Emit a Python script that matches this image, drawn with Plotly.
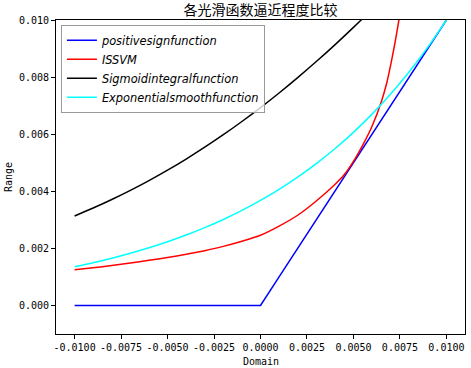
import plotly.graph_objects as go

# Data
x_grid = [-0.010, -0.009, -0.008, -0.007, -0.006, -0.005, -0.004, -0.003, -0.002, -0.001,
          0.000, 0.001, 0.002, 0.003, 0.004, 0.005, 0.006, 0.007, 0.008, 0.009, 0.010]

positive_y = [0, 0, 0, 0, 0, 0, 0, 0, 0, 0,
              0.0, 0.001, 0.002, 0.003, 0.004, 0.005, 0.006, 0.007, 0.008, 0.009, 0.010]

sigmoid_y = [0.003133, 0.003412, 0.003711, 0.004032, 0.004375, 0.004741, 0.005130, 0.005544,
             0.005981, 0.006444, 0.006931, 0.007444, 0.007981, 0.008544, 0.009130, 0.009741,
             0.010375, 0.011032, 0.011711, 0.012412, 0.013133]

expo_y = [0.001353, 0.001496, 0.001653, 0.001827, 0.002019, 0.002231, 0.002466, 0.002725,
          0.003012, 0.003329, 0.003679, 0.004066, 0.004493, 0.004966, 0.005488, 0.006065,
          0.006703, 0.007408, 0.008187, 0.009048, 0.010000]

issvm_x = [-0.010, -0.009, -0.008, -0.007, -0.006, -0.005, -0.004, -0.003, -0.002, -0.001,
           0.000, 0.001, 0.002, 0.003, 0.004, 0.0045, 0.005, 0.0055, 0.006, 0.0065,
           0.0068, 0.007, 0.0072, 0.0074, 0.0076, 0.008]
issvm_y = [0.00125, 0.00132, 0.00140, 0.00149, 0.00158, 0.00168, 0.00179, 0.00192, 0.00207,
           0.00225, 0.00246, 0.00278, 0.00316, 0.00366, 0.00424, 0.00458, 0.00505, 0.00562,
           0.00628, 0.00714, 0.00782, 0.00842, 0.00908, 0.00982, 0.01065, 0.01250]

x_tick_vals = [-0.01, -0.0075, -0.005, -0.0025, 0.0, 0.0025, 0.005, 0.0075, 0.01]
x_tick_text = ["-0.0100", "-0.0075", "-0.0050", "-0.0025", "0.0000", "0.0025", "0.0050", "0.0075", "0.0100"]
y_tick_vals = [0.0, 0.002, 0.004, 0.006, 0.008, 0.010]
y_tick_text = ["0.000", "0.002", "0.004", "0.006", "0.008", "0.010"]

title_text = "各光滑函数逼近程度比较"
x_label = "Domain"
y_label = "Range"
names = ["positivesignfunction", "ISSVM", "Sigmoidintegralfunction", "Exponentialsmoothfunction"]

fig = go.Figure()
fig.add_trace(go.Scatter(x=x_grid, y=positive_y, mode="lines", name=names[0],
                         line=dict(color="#0000ff", width=1.5)))
fig.add_trace(go.Scatter(x=issvm_x, y=issvm_y, mode="lines", name=names[1],
                         line=dict(color="#ff0000", width=1.5, shape="spline", smoothing=0.5)))
fig.add_trace(go.Scatter(x=x_grid, y=sigmoid_y, mode="lines", name=names[2],
                         line=dict(color="#000000", width=1.5, shape="spline", smoothing=0.8)))
fig.add_trace(go.Scatter(x=x_grid, y=expo_y, mode="lines", name=names[3],
                         line=dict(color="#00ffff", width=1.5, shape="spline", smoothing=0.8)))

tick_font = dict(family="DejaVu Sans Mono", size=10, color="black")

W, H = 471, 368
ML, MR, MT, MB = 56, 6, 20, 34
plot_w = W - ML - MR
plot_h = H - MT - MB

fig.update_layout(
    width=W, height=H,
    margin=dict(l=ML, r=MR, t=MT, b=MB, autoexpand=False),
    paper_bgcolor="white", plot_bgcolor="white",
    title=dict(text=title_text, x=0.5, xref="paper", y=1 - 10 / H, yref="container",
               xanchor="center", yanchor="middle",
               font=dict(family="Noto Sans CJK SC", size=14, color="black")),
    showlegend=True,
    legend=dict(x=0.012, y=0.985, xanchor="left", yanchor="top",
                bgcolor="rgba(255,255,255,0.8)", bordercolor="#999999", borderwidth=1,
                font=dict(family="DejaVu Sans", size=11.4, color="black", style="italic"),
                tracegroupgap=0, itemwidth=30),
    xaxis=dict(range=[-0.011, 0.011], tickvals=x_tick_vals, ticktext=x_tick_text,
               showgrid=False, zeroline=False, showline=True, linecolor="black", linewidth=1,
               mirror=True, ticks="outside", ticklen=4, tickcolor="black",
               tickfont=tick_font, automargin=False),
    yaxis=dict(range=[-0.001, 0.010], tickvals=y_tick_vals, ticktext=y_tick_text,
               showgrid=False, zeroline=False, showline=True, linecolor="black", linewidth=1,
               mirror=True, ticks="outside", ticklen=4, tickcolor="black",
               tickfont=tick_font, automargin=False),
    annotations=[
        dict(text=x_label, x=0.5, xref="paper", y=-(361 - (H - MB)) / plot_h, yref="paper",
             showarrow=False, font=tick_font, xanchor="center", yanchor="middle"),
        dict(text=y_label, x=-(ML - 8) / plot_w, xref="paper", y=0.5, yref="paper",
             showarrow=False, font=tick_font, textangle=-90, xanchor="center", yanchor="middle"),
    ],
)

fig.write_html("out.html", config={"displayModeBar": False},
               post_script="document.body.style.margin='0';document.body.style.padding='0';")
